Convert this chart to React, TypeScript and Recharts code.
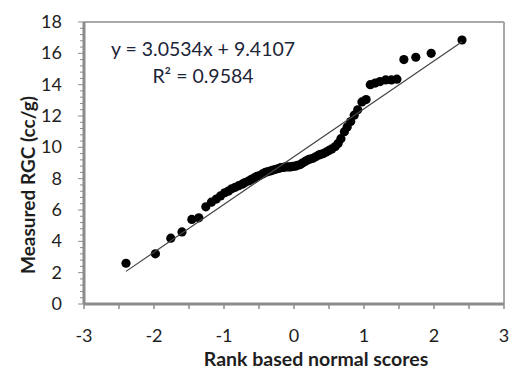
import React from "react";
import {
  ScatterChart,
  Scatter,
  XAxis,
  YAxis,
  ReferenceLine,
} from "recharts";

const scores = [
  -2.4, -1.98, -1.76, -1.6, -1.46, -1.36, -1.26, -1.18, -1.11, -1.05,
  -0.99, -0.94, -0.89, -0.84, -0.79, -0.74, -0.7, -0.65, -0.61, -0.57,
  -0.53, -0.49, -0.45, -0.41, -0.37, -0.33, -0.3, -0.26, -0.22, -0.19,
  -0.15, -0.12, -0.08, -0.05, -0.02, 0.02, 0.05, 0.09, 0.12, 0.16,
  0.2, 0.23, 0.27, 0.31, 0.35, 0.38, 0.42, 0.46, 0.5, 0.54,
  0.59, 0.63, 0.67, 0.72, 0.76, 0.81, 0.86, 0.91, 0.97, 1.03,
  1.09, 1.16, 1.23, 1.31, 1.39, 1.47, 1.57, 1.74, 1.96, 2.4,
];
const rgc = [
  2.6, 3.2, 4.2, 4.6, 5.4, 5.5, 6.2, 6.5, 6.7, 6.9,
  7.1, 7.2, 7.35, 7.45, 7.55, 7.65, 7.75, 7.85, 7.95, 8.05,
  8.15, 8.2, 8.3, 8.4, 8.45, 8.5, 8.55, 8.6, 8.65, 8.7,
  8.72, 8.75, 8.75, 8.75, 8.78, 8.8, 8.85, 8.9, 9.0, 9.1,
  9.2, 9.25, 9.3, 9.4, 9.5, 9.55, 9.6, 9.7, 9.8, 9.9,
  10.05, 10.25, 10.55, 11.0, 11.3, 11.65, 12.05, 12.4, 12.9, 13.05,
  14.0, 14.1, 14.2, 14.3, 14.3, 14.35, 15.6, 15.75, 16.0, 16.85,
];

const slope = 3.0534;
const intercept = 9.4107;
const rSquared = 0.9584;

const xTicks = [-3, -2.5, -2, -1.5, -1, -0.5, 0, 0.5, 1, 1.5, 2, 2.5, 3];
const yMajor = [0, 2, 4, 6, 8, 10, 12, 14, 16, 18];

const points = scores.map((x, i) => ({ x, y: rgc[i] }));
const xMin = Math.min(...scores);
const xMax = Math.max(...scores);
const trend = [
  { x: xMin, y: slope * xMin + intercept },
  { x: xMax, y: slope * xMax + intercept },
];

// minor ticks every 0.4 between majors
const yTicks: number[] = [];
yMajor.forEach((v, i) => {
  if (i === yMajor.length - 1) {
    yTicks.push(v);
    return;
  }
  for (let k = 0; k < 5; k++) yTicks.push(+(v + k * 0.4).toFixed(1));
});

const FONT = "Lato, 'Open Sans', sans-serif";
const AXIS = "#8c8c8c";
const TEXT = "#1e1e1e";

const XTick = ({ x, y, payload }: any) => {
  const v = payload.value;
  return (
    <g>
      <line x1={x} x2={x} y1={y} y2={y + 5} stroke={AXIS} strokeWidth={1.5} />
      {Number.isInteger(v) && (
        <text x={x} y={y + 38} textAnchor="middle" fontSize={18} fill={TEXT} fontFamily={FONT}>
          {v}
        </text>
      )}
    </g>
  );
};

const YTick = ({ x, y, payload }: any) => {
  const v = payload.value;
  const major = Number.isInteger(v) && v % 2 === 0;
  return (
    <g>
      <line x1={x - (major ? 6 : 4)} x2={x} y1={y} y2={y} stroke={AXIS} strokeWidth={1} />
      {major && (
        <text x={x - 22} y={y + 6} textAnchor="end" fontSize={18} fill={TEXT} fontFamily={FONT}>
          {v}
        </text>
      )}
    </g>
  );
};

const Dot = (props: any) => <circle cx={props.cx} cy={props.cy} r={4.6} fill="#000" />;

export default function App() {
  return (
    <div style={{ position: "absolute", left: 0, top: 0, width: 512, height: 370, background: "#fff" }}>
      <ScatterChart width={512} height={370} margin={{ top: 22, right: 8, bottom: 0, left: 0 }}>
        <XAxis
          type="number"
          dataKey="x"
          domain={[-3, 3]}
          ticks={xTicks}
          interval={0}
          height={66}
          tickSize={0}
          tickMargin={0}
          tickLine={false}
          axisLine={{ stroke: AXIS, strokeWidth: 3 }}
          tick={<XTick />}
          label={{
            content: () => (
              <text x={316} y={366} textAnchor="middle" fontSize={19.5} fontWeight="bold" fill={TEXT} fontFamily={FONT}>
                Rank based normal scores
              </text>
            ),
          }}
        />
        <YAxis
          type="number"
          dataKey="y"
          domain={[0, 18]}
          ticks={yTicks}
          interval={0}
          width={84}
          tickSize={0}
          tickMargin={0}
          tickLine={false}
          axisLine={{ stroke: AXIS, strokeWidth: 3 }}
          tick={<YTick />}
          label={{
            content: () => (
              <text
                x={27}
                y={185}
                textAnchor="middle"
                dominantBaseline="central"
                transform="rotate(-90, 27, 185)"
                fontSize={19}
                fontWeight="bold"
                fill={TEXT}
                fontFamily={FONT}
              >
                Measured RGC (cc/g)
              </text>
            ),
          }}
        />
        <ReferenceLine y={18} stroke="#a8a8a8" strokeWidth={2} />
        <ReferenceLine x={3} stroke="#a8a8a8" strokeWidth={2} />
        <Scatter data={points} shape={Dot} isAnimationActive={false} />
        <Scatter
          data={trend}
          line={{ stroke: "#444", strokeWidth: 1.2 }}
          shape={() => <g />}
          isAnimationActive={false}
        />
      </ScatterChart>
      <div
        style={{
          position: "absolute",
          left: 73,
          top: 35,
          width: 260,
          textAlign: "center",
          fontFamily: FONT,
          fontSize: 19.5,
          lineHeight: "27px",
          color: "#1c2438",
        }}
      >
        <div>y = {slope}x + {intercept}</div>
        <div>R² = {rSquared}</div>
      </div>
    </div>
  );
}
